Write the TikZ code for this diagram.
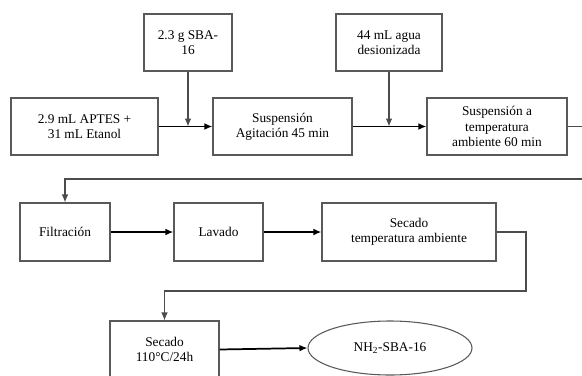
\documentclass[tikz,border=0pt]{standalone}
\usepackage{fontspec}
\setmainfont{Liberation Serif}
\usetikzlibrary{arrows.meta,shapes.geometric,calc}
\begin{document}
\begin{tikzpicture}[x=0.75pt,y=-0.75pt,
  box/.style={draw=black!65,line width=0.8pt,fill=white,align=center,inner sep=1pt,
    font=\fontsize{10}{11.5}\selectfont},
  thick arrow/.style={draw=black,line width=1.3pt,-{Latex[length=6pt,width=5pt]}},
  thin arrow/.style={draw=black!70,line width=0.8pt,-{Latex[length=6pt,width=5pt]}},
  thin line/.style={draw=black!70,line width=0.8pt}]
\useasboundingbox (0,0) rectangle (582,375);
\node[box,minimum width=88*0.75pt,minimum height=57*0.75pt] (sba) at (188,42.5) {2.3 g SBA-\\16};
\node[box,minimum width=147*0.75pt,minimum height=57*0.75pt] (aptes) at (84.5,126.5) {2.9 mL APTES +\\31 mL Etanol};
\node[box,minimum width=139*0.75pt,minimum height=57*0.75pt] (susp1) at (282.5,126.5) {Suspensión\\Agitación 45 min};
\node[box,minimum width=106*0.75pt,minimum height=57*0.75pt] (agua) at (389,42.5) {44 mL agua\\desionizada};
\node[box,minimum width=140*0.75pt,minimum height=57*0.75pt] (susp2) at (497,126.5) {Suspensión a\\temperatura\\ambiente 60 min};
\node[box,minimum width=90*0.75pt,minimum height=58*0.75pt] (filt) at (65,232) {Filtración};
\node[box,minimum width=89*0.75pt,minimum height=58*0.75pt] (lav) at (218.5,232) {Lavado};
\node[box,minimum width=174*0.75pt,minimum height=58*0.75pt] (sec1) at (409,232) {Secado\\temperatura ambiente};
\node[box,minimum width=109*0.75pt,minimum height=57*0.75pt] (sec2) at (164.5,349.5) {Secado\\110°C/24h};
\node[box,ellipse,minimum width=164*0.75pt,minimum height=54*0.75pt] (prod) at (390,348) {NH\textsubscript{2}-SBA-16};
\coordinate (e1) at (590,126.5);
\coordinate (e2) at (590,179);
\coordinate (c1) at (526,291);
\draw[thick arrow] (aptes.east) -- (susp1.west);
\draw[thin arrow] (sba.south) -- (sba.south |- aptes.east);
\draw[thick arrow] (susp1.east) -- (susp2.west);
\draw[thin arrow] (agua.south) -- (agua.south |- susp1.east);
\draw[thin line] (susp2.east) -- (e1);
\draw[thin arrow] (e2) -| (filt.north);
\draw[thick arrow] (filt.east) -- (lav.west);
\draw[thick arrow] (lav.east) -- (sec1.west);
\draw[thin arrow] (sec1.east) -| (c1) -| (sec2.north);
\draw[thick arrow] (sec2.east) -- (prod.west);
\end{tikzpicture}
\end{document}
